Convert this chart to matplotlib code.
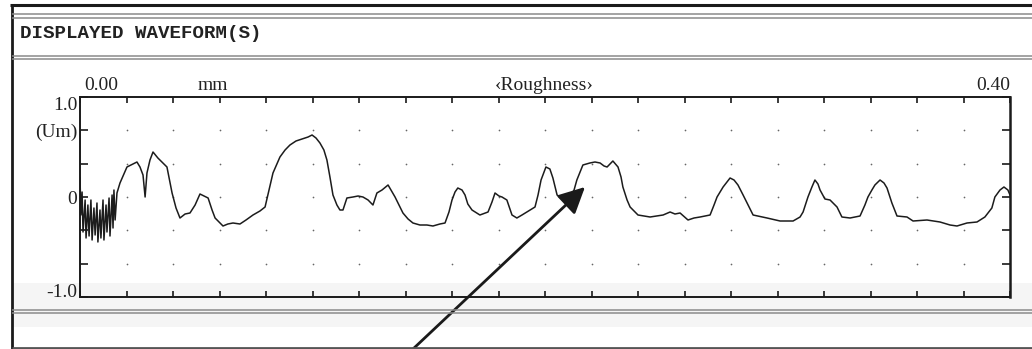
#!/usr/bin/env python3
"""
Recreates a printed surface roughness trace from a profilometer screen
("DISPLAYED WAVEFORM(S)"), with the arrow that points at one plateau.
"""

import matplotlib.pyplot as plt
import numpy as np
from matplotlib.lines import Line2D
from matplotlib.patches import Rectangle

FIG_W, FIG_H = 1032, 349

PANEL_TITLE = "DISPLAYED WAVEFORM(S)"
X_LABEL_LEFT = "0.00"
X_UNIT = "mm"
X_CAPTION = "\u2039Roughness\u203a"
X_LABEL_RIGHT = "0.40"

X_RANGE_MM = (0.0, 0.40)
X_TICK_STEP_MM = 0.02
Y_TICKS_UM = [-1.0, -2 / 3, -1 / 3, 0.0, 1 / 3, 2 / 3, 1.0]
Y_TICK_LABELS = ["-1.0", "", "", "0", "", "(Um)", "1.0"]

#   Profile trace, x in mm and height in um.
PROFILE_X_MM = [
    0.0000, 0.0004, 0.0009, 0.0013, 0.0022, 0.0026, 0.0034, 0.0039, 0.0047, 0.0052,
    0.0060, 0.0065, 0.0073, 0.0077, 0.0086, 0.0090, 0.0099, 0.0103, 0.0112, 0.0116,
    0.0125, 0.0129, 0.0138, 0.0142, 0.0146, 0.0151, 0.0159, 0.0172, 0.0202, 0.0228,
    0.0245, 0.0258, 0.0271, 0.0280, 0.0288, 0.0301, 0.0314, 0.0335, 0.0357, 0.0374,
    0.0396, 0.0413, 0.0430, 0.0452, 0.0473, 0.0495, 0.0516, 0.0533, 0.0551, 0.0568,
    0.0581, 0.0615, 0.0636, 0.0658, 0.0688, 0.0714, 0.0744, 0.0774, 0.0796, 0.0813,
    0.0830, 0.0860, 0.0882, 0.0903, 0.0929, 0.0955, 0.0981, 0.0998, 0.1015, 0.1032,
    0.1049, 0.1062, 0.1075, 0.1088, 0.1105, 0.1118, 0.1131, 0.1148, 0.1174, 0.1196,
    0.1217, 0.1239, 0.1260, 0.1277, 0.1299, 0.1325, 0.1355, 0.1389, 0.1411, 0.1432,
    0.1462, 0.1492, 0.1518, 0.1548, 0.1570, 0.1587, 0.1600, 0.1613, 0.1625, 0.1643,
    0.1656, 0.1668, 0.1686, 0.1720, 0.1755, 0.1772, 0.1785, 0.1802, 0.1815, 0.1836,
    0.1858, 0.1879, 0.1901, 0.1922, 0.1957, 0.1970, 0.1983, 0.2004, 0.2021, 0.2034,
    0.2052, 0.2077, 0.2107, 0.2125, 0.2137, 0.2163, 0.2193, 0.2215, 0.2237, 0.2254,
    0.2267, 0.2292, 0.2314, 0.2327, 0.2335, 0.2353, 0.2366, 0.2400, 0.2452, 0.2508,
    0.2538, 0.2559, 0.2581, 0.2615, 0.2641, 0.2667, 0.2710, 0.2727, 0.2740, 0.2766,
    0.2796, 0.2813, 0.2830, 0.2852, 0.2869, 0.2895, 0.2955, 0.3011, 0.3067, 0.3097,
    0.3110, 0.3131, 0.3148, 0.3161, 0.3174, 0.3183, 0.3204, 0.3226, 0.3256, 0.3277,
    0.3312, 0.3355, 0.3376, 0.3389, 0.3406, 0.3419, 0.3441, 0.3458, 0.3471, 0.3492,
    0.3514, 0.3557, 0.3583, 0.3643, 0.3699, 0.3742, 0.3772, 0.3815, 0.3858, 0.3892,
    0.3922, 0.3935, 0.3957, 0.3974, 0.3991, 0.4000,
]
PROFILE_Y_UM = [
    0.19, -0.18, 0.05, -0.35, -0.03, -0.41, -0.08, -0.39, -0.03, -0.43,
    -0.11, -0.38, -0.06, -0.45, -0.13, -0.41, -0.03, -0.43, -0.08, -0.35,
    -0.01, -0.39, 0.02, -0.31, 0.07, -0.23, 0.04, 0.14, 0.30, 0.33,
    0.35, 0.30, 0.22, 0.00, 0.24, 0.37, 0.45, 0.39, 0.34, 0.30,
    0.04, -0.11, -0.21, -0.17, -0.16, -0.08, 0.03, 0.01, -0.01, -0.13,
    -0.21, -0.29, -0.27, -0.26, -0.27, -0.23, -0.18, -0.14, -0.10, 0.07,
    0.24, 0.40, 0.47, 0.52, 0.56, 0.58, 0.60, 0.62, 0.59, 0.54,
    0.47, 0.37, 0.20, 0.02, -0.08, -0.13, -0.13, -0.01, 0.00, 0.01,
    0.00, -0.03, -0.08, 0.04, 0.07, 0.12, 0.00, -0.16, -0.22, -0.26,
    -0.28, -0.28, -0.29, -0.27, -0.26, -0.15, -0.03, 0.05, 0.09, 0.07,
    0.02, -0.07, -0.13, -0.18, -0.15, -0.05, 0.04, 0.01, 0.00, -0.03,
    -0.18, -0.21, -0.18, -0.15, -0.10, 0.02, 0.17, 0.30, 0.28, 0.19,
    0.02, -0.03, 0.00, 0.07, 0.17, 0.32, 0.34, 0.35, 0.34, 0.31,
    0.30, 0.36, 0.30, 0.20, 0.10, -0.03, -0.10, -0.18, -0.20, -0.18,
    -0.15, -0.17, -0.16, -0.23, -0.21, -0.20, -0.18, -0.08, 0.00, 0.10,
    0.19, 0.17, 0.12, 0.02, -0.06, -0.18, -0.21, -0.24, -0.24, -0.20,
    -0.15, 0.00, 0.10, 0.17, 0.13, 0.07, -0.02, -0.03, -0.10, -0.20,
    -0.21, -0.19, -0.08, 0.00, 0.07, 0.12, 0.17, 0.14, 0.09, -0.06,
    -0.19, -0.20, -0.24, -0.23, -0.25, -0.28, -0.29, -0.26, -0.25, -0.20,
    -0.11, 0.00, 0.07, 0.10, 0.07, 0.02,
]

#   Point on the trace that the arrow marks (mm, um).
ARROW_TIP = (0.2172, 0.10)


def fx(px):
    """Pixel column to figure fraction."""
    return px / FIG_W


def fy(py):
    """Pixel row (from top) to figure fraction."""
    return 1 - py / FIG_H


def frame_line(fig, x0, x1, y0, y1, color, lw):
    """Draw one line of the printed panel frame, in pixel units."""
    fig.add_artist(Line2D([fx(x0), fx(x1)], [fy(y0), fy(y1)],
                          color=color, lw=lw, solid_capstyle="butt"))


def draw_frame(fig):
    """Panel borders, double rules and the header text."""
    #   Faint scanner band behind the bottom of the plot.
    fig.add_artist(Rectangle((fx(12), fy(327)), fx(1032) - fx(12),
                             fy(283) - fy(327), color="#f5f5f5", lw=0,
                             zorder=0))

    frame_line(fig, 10, 1032, 5, 5, "#1a1a1a", 2.2)
    frame_line(fig, 12, 12, 4, 349, "#1a1a1a", 2.0)
    frame_line(fig, 12, 1032, 347.5, 347.5, "#555555", 2.0)
    for y in (14, 17.5, 55.5, 59, 309.5, 313):
        frame_line(fig, 12, 1032, y, y, "#8a8a8a", 1.1)

    fig.text(fx(20), fy(34), PANEL_TITLE, family="Liberation Mono",
             weight="bold", fontsize=13.8, color="#222222", va="center")


def draw_profile(fig):
    """Axes with the roughness trace, ticks, grid dots and labels."""
    ax = fig.add_axes([fx(80), fy(297), fx(1010) - fx(80), fy(97) - fy(297)])
    ax.patch.set_alpha(0)

    ax.plot(PROFILE_X_MM, PROFILE_Y_UM, color="#1c1c1c", lw=1.1)

    x_ticks = np.arange(X_RANGE_MM[0], X_RANGE_MM[1] + 1e-9, X_TICK_STEP_MM)
    ax.set_xlim(*X_RANGE_MM)
    ax.set_ylim(Y_TICKS_UM[0], Y_TICKS_UM[-1])
    ax.set_xticks(x_ticks)
    ax.set_yticks(Y_TICKS_UM)
    ax.set_yticklabels(Y_TICK_LABELS)

    ax.tick_params(axis="x", direction="in", top=True, bottom=True,
                   length=4.5, width=1.2, color="#1a1a1a",
                   labelbottom=False, labeltop=False)
    ax.tick_params(axis="y", direction="in", left=True, right=True,
                   length=6, width=1.2, color="#1a1a1a",
                   labelsize=14, pad=2, labelcolor="#222222")
    labels = ax.get_yticklabels()
    labels[-1].set_va("top")
    labels[0].set_va("baseline")

    for spine in ax.spines.values():
        spine.set_color("#1a1a1a")
        spine.set_linewidth(1.4)
    ax.spines["right"].set_linewidth(1.8)

    #   Dotted grid: one dot at every inner tick crossing.
    gx, gy = np.meshgrid(x_ticks[1:-1], Y_TICKS_UM[1:-1])
    ax.scatter(gx.ravel(), gy.ravel(), s=1.5, color="#666666", lw=0)

    #   Scale labels printed above the plot.
    top = ax.get_xaxis_transform()
    style = dict(fontsize=14, color="#222222", va="baseline")
    ax.text(0.002, 1.035, X_LABEL_LEFT, transform=top, ha="left", **style)
    ax.text(0.057, 1.035, X_UNIT, transform=top, ha="center", **style)
    ax.text(0.1995, 1.035, X_CAPTION, transform=top, ha="center", **style)
    ax.text(x_ticks[-1], 1.035, X_LABEL_RIGHT, transform=top, ha="right",
            **style)

    ax.annotate("", xy=ARROW_TIP, xytext=(fx(413), 0.0),
                textcoords="figure fraction", annotation_clip=False,
                arrowprops=dict(arrowstyle="-|>,head_length=0.8,head_width=0.4",
                                lw=2.0, color="#1a1a1a", shrinkA=0, shrinkB=0,
                                mutation_scale=20))
    return ax


def main():
    plt.rcParams["font.family"] = ["Liberation Serif", "DejaVu Serif"]
    fig = plt.figure(figsize=(FIG_W / 100, FIG_H / 100), dpi=100)
    draw_frame(fig)
    draw_profile(fig)
    fig.savefig("out.png", dpi=100)


if __name__ == "__main__":
    main()
